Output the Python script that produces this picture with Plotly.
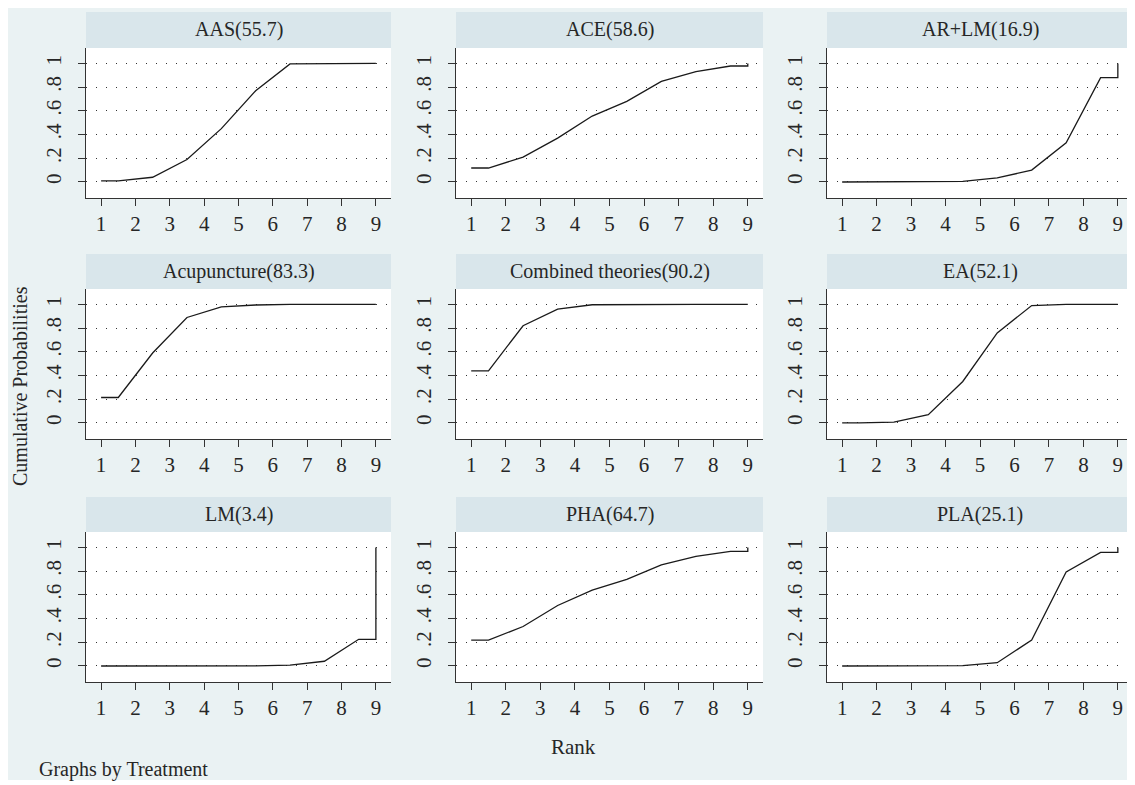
import plotly.graph_objects as go

# ---------------- data ----------------
treatments = ["AAS", "ACE", "AR+LM", "Acupuncture", "Combined theories", "EA", "LM", "PHA", "PLA"]
sucra = ["55.7", "58.6", "16.9", "83.3", "90.2", "52.1", "3.4", "64.7", "25.1"]
ranks = [1, 2, 3, 4, 5, 6, 7, 8, 9]

# cumulative probability of being ranked at or better than rank 1..9
cum_AAS = [0.01, 0.04, 0.19, 0.45, 0.77, 0.996, 1.0, 1.0, 1.0]
cum_ACE = [0.118, 0.21, 0.37, 0.556, 0.68, 0.848, 0.93, 0.978, 1.0]
cum_ARLM = [0.0, 0.0, 0.001, 0.005, 0.034, 0.10, 0.33, 0.88, 1.0]
cum_Acupuncture = [0.215, 0.59, 0.89, 0.98, 0.995, 1.0, 1.0, 1.0, 1.0]
cum_Combined = [0.44, 0.82, 0.96, 0.997, 1.0, 1.0, 1.0, 1.0, 1.0]
cum_EA = [0.001, 0.008, 0.07, 0.35, 0.76, 0.99, 1.0, 1.0, 1.0]
cum_LM = [0.0, 0.0, 0.0, 0.0, 0.001, 0.007, 0.04, 0.225, 1.0]
cum_PHA = [0.218, 0.333, 0.51, 0.64, 0.73, 0.852, 0.924, 0.966, 1.0]
cum_PLA = [0.0, 0.0, 0.0, 0.003, 0.028, 0.218, 0.793, 0.958, 1.0]

series = [cum_AAS, cum_ACE, cum_ARLM, cum_Acupuncture, cum_Combined,
          cum_EA, cum_LM, cum_PHA, cum_PLA]

ytick_vals = [0, 0.2, 0.4, 0.6, 0.8, 1]
ytick_text = ["0", ".2", ".4", ".6", ".8", "1"]

# ---------------- layout geometry (window pixels) ----------------
OFF = 8                     # default page margin of the html body
W, H = 1135 - OFF, 785 - OFF
cols_px = [(86, 391), (456, 763), (827, 1133)]
rows_px = [(48, 198), (289, 439), (532, 682)]
bars_px = [(12, 48), (254, 289), (497, 532)]

FONT = "Liberation Serif, Times New Roman, serif"
TXT = "#262626"
BG = "#EAF2F3"
BAR = "#D9E6EB"


def px_x(p):
    return max(0.0, (p - OFF) / W)


def px_y(p):
    return min(1.0, 1 - (p - OFF) / H)


fig = go.Figure()
layout = dict(
    width=W, height=H,
    margin=dict(l=0, r=0, t=0, b=0),
    paper_bgcolor="white",
    plot_bgcolor="rgba(0,0,0,0)",
    showlegend=False,
    font=dict(family=FONT, color=TXT),
)
shapes = [dict(type="rect", xref="paper", yref="paper",
               x0=px_x(5), x1=1, y0=px_y(780), y1=px_y(8),
               fillcolor=BG, line=dict(width=0), layer="below")]
annotations = []

for i, (name, cum) in enumerate(zip(treatments, series)):
    r, c = divmod(i, 3)
    k = "" if i == 0 else str(i + 1)
    xa, ya = "xaxis" + k, "yaxis" + k
    x0p, x1p = cols_px[c]
    y0p, y1p = rows_px[r]
    b0p, b1p = bars_px[r]

    # path: flat first half-step, segments at mid-ranks, flat last half-step, jump to 1
    xs = [ranks[0], ranks[0] + 0.5] + [rk + 0.5 for rk in ranks[1:8]] + [ranks[8], ranks[8]]
    ys = [cum[0], cum[0]] + cum[1:8] + [cum[7], cum[8]]
    fig.add_trace(go.Scatter(x=xs, y=ys, mode="lines",
                             line=dict(color="#1a1a1a", width=1.3),
                             xaxis="x" + k, yaxis="y" + k, hoverinfo="skip"))

    layout[xa] = dict(
        domain=[px_x(x0p), px_x(x1p)], anchor="y" + k,
        range=[0.56, 9.44], tickvals=ranks, ticks="outside", ticklen=7,
        tickwidth=1.3, tickcolor="#333", showline=True, linecolor="#333",
        linewidth=1.3, showgrid=False, zeroline=False,
        tickfont=dict(family=FONT, size=21, color=TXT), fixedrange=True,
    )
    layout[ya] = dict(
        domain=[px_y(y1p), px_y(y0p)], anchor="x" + k,
        range=[-0.135, 1.13], tickvals=ytick_vals, ticktext=ytick_text,
        tickangle=-90, ticks="outside", ticklen=7, tickwidth=1.3,
        tickcolor="#333", showline=True, linecolor="#333", linewidth=1.3,
        showgrid=True, gridcolor="#333", gridwidth=1.4, griddash="1px,9px",
        zeroline=False, ticklabelstandoff=8,
        tickfont=dict(family=FONT, size=21, color=TXT), fixedrange=True,
    )
    # white plot region
    shapes.append(dict(type="rect", xref="paper", yref="paper",
                       x0=px_x(x0p), x1=px_x(x1p), y0=px_y(y1p), y1=px_y(y0p),
                       fillcolor="white", line=dict(width=0), layer="below"))
    # title strip
    shapes.append(dict(type="rect", xref="paper", yref="paper",
                       x0=px_x(x0p), x1=px_x(x1p), y0=px_y(b1p), y1=px_y(b0p),
                       fillcolor=BAR, line=dict(width=0), layer="below"))
    annotations.append(dict(text=f"{name}({sucra[i]})", xref="paper", yref="paper",
                            x=px_x((x0p + x1p) / 2), y=px_y((b0p + b1p) / 2),
                            showarrow=False, xanchor="center", yanchor="middle",
                            font=dict(family=FONT, size=20, color=TXT)))

annotations.append(dict(text="Rank", xref="paper", yref="paper",
                        x=px_x(573), y=px_y(747), showarrow=False,
                        xanchor="center", yanchor="middle",
                        font=dict(family=FONT, size=21, color=TXT)))
annotations.append(dict(text="Graphs by Treatment", xref="paper", yref="paper",
                        x=px_x(37), y=px_y(769), showarrow=False,
                        xanchor="left", yanchor="middle",
                        font=dict(family=FONT, size=20, color=TXT)))
annotations.append(dict(text="Cumulative Probabilities", xref="paper", yref="paper",
                        x=0, y=px_y(386), showarrow=False, textangle=-90,
                        xanchor="left", yanchor="middle", borderpad=0,
                        font=dict(family=FONT, size=20, color=TXT)))

layout["shapes"] = shapes
layout["annotations"] = annotations
fig.update_layout(**layout)
fig.write_html("out.html")
